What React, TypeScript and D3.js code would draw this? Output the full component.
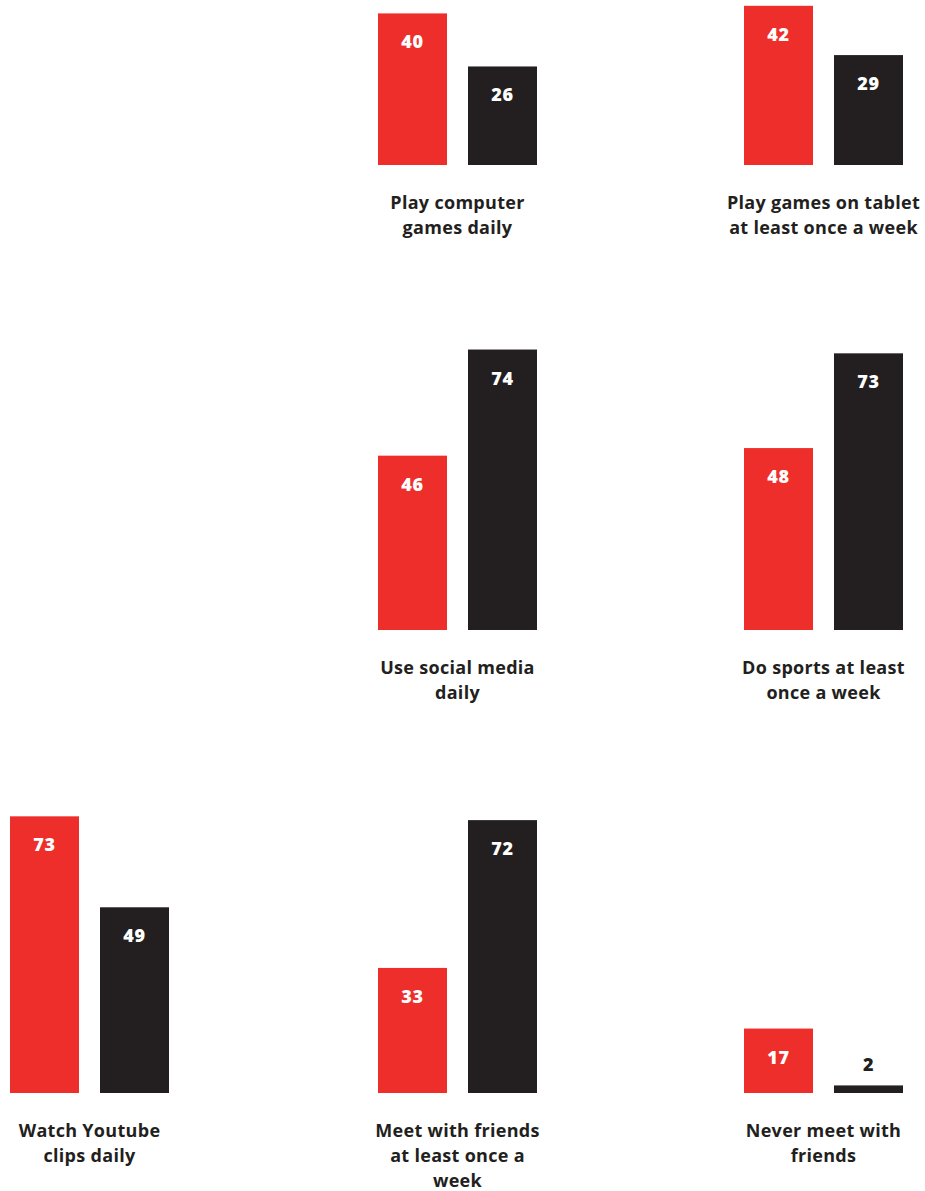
import React from "react";
import * as d3 from "d3";

const categories: string[][] = [
  ["Play computer", "games daily"],
  ["Play games on tablet", "at least once a week"],
  ["Use social media", "daily"],
  ["Do sports at least", "once a week"],
  ["Watch Youtube", "clips daily"],
  ["Meet with friends", "at least once a", "week"],
  ["Never meet with", "friends"],
];
const seriesKeys = ["red", "black"];
const redValues = [40, 42, 46, 48, 73, 33, 17];
const blackValues = [26, 29, 74, 73, 49, 72, 2];

// layout: grid slot [row, col] for each panel
const panelSlots: [number, number][] = [
  [0, 1], [0, 2], [1, 1], [1, 2], [2, 0], [2, 1], [2, 2],
];
const rowBaselines = [165, 630, 1093];
const colStarts = [10, 378, 744];

const W = 925;
const H = 1191;
const RED = "#ee2e2a";
const DARK = "#231f20";
const FONT = "'Open Sans', 'Noto Sans', sans-serif";

export default function App() {
  const colX = d3.scaleOrdinal<number, number>().domain([0, 1, 2]).range(colStarts);
  const inner = d3
    .scaleBand<string>()
    .domain(seriesKeys)
    .range([0, 159])
    .paddingInner(21 / 90)
    .paddingOuter(0);
  const h = d3.scaleLinear().domain([0, 100]).range([0, 379]);

  return (
    <svg
      width={W}
      height={H}
      style={{ position: "absolute", left: 0, top: 0, background: "#fff" }}
      fontFamily={FONT}
    >
      {categories.map((lines, i) => {
        const [row, col] = panelSlots[i];
        const x0 = colX(col);
        const base = rowBaselines[row];
        const vals = [redValues[i], blackValues[i]];
        const cx = x0 + 159 / 2;
        return (
          <g key={i}>
            {seriesKeys.map((k, j) => {
              const v = vals[j];
              const bh = h(v);
              const x = x0 + inner(k)!;
              const inside = bh > 40;
              return (
                <g key={k}>
                  <rect
                    x={x}
                    y={base - bh}
                    width={inner.bandwidth()}
                    height={bh}
                    fill={k === "red" ? RED : DARK}
                  />
                  <text
                    x={x + inner.bandwidth() / 2}
                    y={inside ? base - bh + 35 : base - bh - 14}
                    textAnchor="middle"
                    fontSize={18}
                    fontWeight={800}
                    letterSpacing={0.6}
                    fill={inside ? "#fff" : DARK}
                  >
                    {v}
                  </text>
                </g>
              );
            })}
            {lines.map((ln, li) => (
              <text
                key={li}
                x={cx}
                y={base + 43.5 + li * 25}
                textAnchor="middle"
                fontSize={18}
                fontWeight={700}
                letterSpacing={0.3}
                fill={DARK}
              >
                {ln}
              </text>
            ))}
          </g>
        );
      })}
    </svg>
  );
}
